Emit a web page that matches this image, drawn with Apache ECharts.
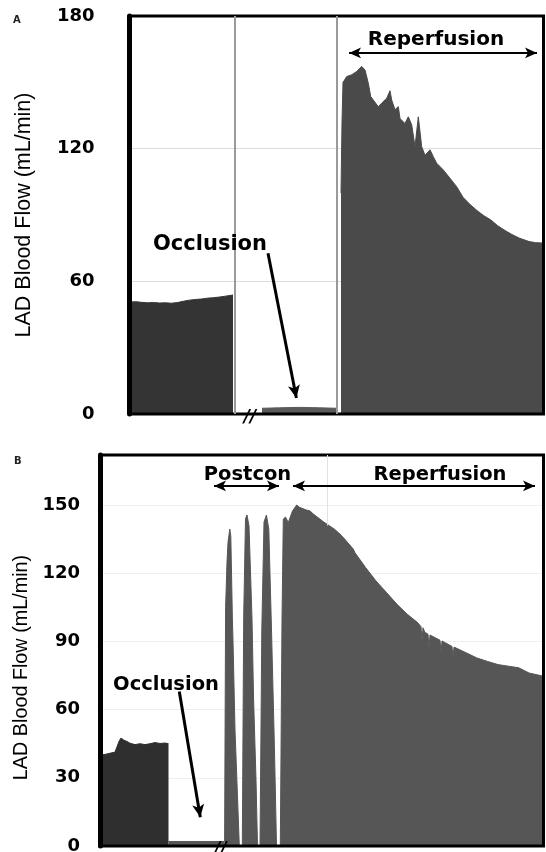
<!DOCTYPE html>
<html><head><meta charset="utf-8">
<script src="https://cdn.jsdelivr.net/npm/echarts@6/dist/echarts.min.js"></script>
<style>html,body{margin:0;padding:0;background:#fff}#c{width:546px;height:852px}</style>
</head><body><div id="c"></div>
<script>
// ---------- Panel A (time units arbitrary, flow mL/min) ----------
const tBaseA = [0, 6, 12, 18, 24, 30, 36, 42, 48, 54, 60, 66, 72, 78, 84, 90, 96, 103.5];
const vBaseA = [50.6, 50.8, 50.5, 50.3, 50.4, 50.2, 50.3, 50.1, 50.4, 51.0, 51.5, 51.8, 52.0, 52.4, 52.6, 52.9, 53.3, 53.8];
const tOccA = [132.5, 150, 170, 190, 207];
const vOccA = [2.6, 2.8, 3.0, 2.8, 2.6];
const tRepA = [211.5, 212.5, 213.5, 215, 217.2, 222.2, 227.2, 232.2, 235.5, 238.8, 241.2, 243.8, 248.8, 252.2, 257.2, 260.5, 262.2, 265.5, 268.8, 270.5, 275.5, 278.8, 282.2, 285.5, 288.8, 292.2, 295.5, 300.5, 303.8, 307.2, 313.8, 320.5, 327.2, 333.5, 340, 347.5, 354, 361.5, 368, 375.5, 382, 389.5, 399.5, 406, 414];
const vRepA = [100, 132, 150, 151, 152.6, 153.4, 154.9, 157.2, 155.6, 149.6, 143.6, 142, 139, 140.6, 142.8, 146.2, 142, 137.6, 139, 133.6, 131.4, 134.4, 130.8, 120.9, 134.4, 120.9, 117, 119.5, 116.4, 113.4, 110.4, 106.6, 102.8, 98, 95, 92, 89.8, 87.7, 85.2, 83, 81.3, 79.6, 78, 77.5, 77.3];
const yTicksA = [0, 60, 120, 180];

// ---------- Panel B ----------
const tBaseB = [0, 5, 10, 15, 17, 19, 21, 24, 27, 30, 35, 40, 45, 50, 55, 60, 65, 68.5];
const vBaseB = [40, 40.3, 40.8, 41.3, 42, 46, 47.5, 46.5, 46, 45.2, 44.6, 45, 44.6, 45, 45.5, 45.1, 45.3, 45];
const tOccB = [68.5, 80, 100, 124.6];
const vOccB = [2, 2, 2, 2];
const tPostB = [124.6, 125.6, 127, 128, 129.8, 130.8, 132.4, 133, 135, 137.5, 139.3,
                142.3, 143.7, 145.5, 147, 149, 152, 153.5, 156, 157.5,
                160, 161.8, 164, 166.4, 168.8, 171.5, 174.4, 176.5];
const vPostB = [2, 105, 125, 133.6, 139.4, 136.4, 100, 90, 51, 21.7, 0,
                0, 101, 144, 145.6, 140.8, 100, 66, 29, 0,
                0, 95, 142.5, 145.6, 139.4, 95, 43.8, 0];
const tRepB = [180.3, 182, 183.3, 185.5, 188.3, 192.5, 196.7, 199.4, 206.4, 210, 213.4, 223.5, 234.3, 240, 244.7, 253.3, 255, 265.6, 276, 286.5, 297, 307.4, 317.8, 321, 322, 323, 324.8, 328, 329, 330, 335.3, 340, 341, 342, 345.7, 352, 353, 354, 356, 366.6, 377, 387.5, 398, 408.4, 418.8, 429, 443.5];
const vRepB = [0, 100, 143.8, 144.7, 142.3, 147.4, 150, 149, 147.8, 147.4, 146, 142.6, 139.4, 137.2, 135, 130.6, 129, 122.5, 116.6, 111.5, 106.3, 101.9, 98.2, 96.5, 90, 96, 94, 93.2, 87, 92.8, 91.6, 90.5, 85, 90.2, 89.3, 87.8, 83, 87.5, 87.1, 84.9, 82.7, 81.2, 79.8, 79.1, 78.4, 76.1, 74.7];
const yTicksB = [0, 30, 60, 90, 120, 150];

const zip = (t, v) => t.map((x, i) => [x, v[i]]);

const BOLD = 'DejaVu Sans';
const textPt = (name, coord, size, offset) => ({
  name, coord, symbol: 'circle', symbolSize: 1, itemStyle: { color: 'rgba(0,0,0,0)' },
  label: { show: true, position: 'inside', formatter: '{b}', color: '#000', fontFamily: BOLD,
           fontWeight: 'bold', fontSize: size, offset: offset || [0, 0] }
});
const breakPt = (coord) => ({
  name: '//', coord, symbol: 'circle', symbolSize: 1, itemStyle: { color: 'rgba(0,0,0,0)' },
  label: { show: true, position: 'inside', formatter: '{b}', color: '#000', fontFamily: BOLD,
           fontWeight: 'bold', fontStyle: 'italic', fontSize: 17, offset: [0, 4] }
});
const dblArrow = (a, b) => [{ coord: a, symbol: 'arrow' }, { coord: b, symbol: 'arrow' }];
const oneArrow = (a, b) => [{ coord: a, symbol: 'none' }, { coord: b, symbol: 'arrow' }];

function areaSeries(name, xi, data, color, extra) {
  return Object.assign({
    name, type: 'line', xAxisIndex: xi, yAxisIndex: xi === 1 ? 2 : 0, data,
    symbol: 'none', showSymbol: false, silent: true, animation: false,
    lineStyle: { color, width: 1 }, areaStyle: { color, opacity: 1 }, z: 2
  }, extra || {});
}

const yMain = (gi, max, interval, margin, gap, nameSize, pad) => ({
  gridIndex: gi, type: 'value', min: 0, max, interval, z: 6,
  axisLine: { show: true, lineStyle: { color: '#000', width: 5 } },
  axisTick: { show: false },
  splitLine: { show: false },
  axisLabel: { color: '#000', fontFamily: BOLD, fontWeight: 'bold', fontSize: 18, margin,
               formatter: v => (v % interval === 0 ? String(v) : '') },
  name: 'LAD Blood Flow (mL/min)', nameLocation: 'middle', nameGap: gap,
  nameTextStyle: { color: '#000', fontFamily: 'Liberation Sans', fontSize: nameSize, padding: pad }
});
const yGrid = (gi, max, interval, col) => ({
  gridIndex: gi, type: 'value', min: 0, max, interval, z: 0,
  axisLine: { show: false }, axisTick: { show: false }, axisLabel: { show: false },
  splitLine: { show: true, lineStyle: { color: col, width: 1 } }
});

const option = {
  backgroundColor: '#fff',
  animation: false,
  grid: [
    { left: 129.5, top: 16, width: 414, height: 398, show: true, borderColor: '#000', borderWidth: 3,
      backgroundColor: 'transparent', z: 5, containLabel: false, outerBoundsMode: 'none' },
    { left: 100, top: 455, width: 443.5, height: 391, show: true, borderColor: '#000', borderWidth: 3,
      backgroundColor: 'transparent', z: 5, containLabel: false, outerBoundsMode: 'none' }
  ],
  xAxis: [
    { gridIndex: 0, type: 'value', min: 0, max: 414, axisLine: { show: false }, axisTick: { show: false },
      axisLabel: { show: false }, splitLine: { show: false } },
    { gridIndex: 1, type: 'value', min: 0, max: 443.5, axisLine: { show: false }, axisTick: { show: false },
      axisLabel: { show: false }, splitLine: { show: false } }
  ],
  yAxis: [
    yMain(0, yTicksA[yTicksA.length - 1], yTicksA[1] - yTicksA[0], 35, 94.5, 21.5, [0, 0, 0, 0]),
    yGrid(0, yTicksA[yTicksA.length - 1], yTicksA[1] - yTicksA[0], '#dcdcdc'),
    yMain(1, 172, yTicksB[1] - yTicksB[0], 20, 65, 19.8, [0, 34, 0, 0]),
    yGrid(1, 172, yTicksB[1] - yTicksB[0], '#efefef')
  ],
  graphic: [
    { type: 'text', left: 13, top: 15, style: { text: 'A', fontFamily: BOLD, fontWeight: 'bold', fontSize: 10, fill: '#222' } },
    { type: 'text', left: 14, top: 456, style: { text: 'B', fontFamily: BOLD, fontWeight: 'bold', fontSize: 10, fill: '#222' } }
  ],
  series: [
    areaSeries('baseA', 0, zip(tBaseA, vBaseA), '#343434', {
      markLine: { silent: true, symbol: 'none', label: { show: false },
        lineStyle: { color: '#9a9a9a', width: 2, type: 'solid' },
        data: [{ xAxis: 105.5 }, { xAxis: 207.5 }] }
    }),
    areaSeries('occA', 0, zip(tOccA, vOccA), '#5a5a5a', {
      markLine: { silent: true, symbolSize: [9, 13], label: { show: false },
        lineStyle: { color: '#000', width: 3, type: 'solid' },
        data: [oneArrow([138.5, 72.7], [166.9, 7.2])] },
      markPoint: { silent: true, data: [textPt('Occlusion', [80.5, 76.5], 21), breakPt([120.5, 0])] }
    }),
    areaSeries('repA', 0, zip(tRepA, vRepA), '#4a4a4a', {
      markLine: { silent: true, symbolSize: [8, 12], label: { show: false },
        lineStyle: { color: '#000', width: 2, type: 'solid' },
        data: [dblArrow([219.5, 163.3], [407.5, 163.3])] },
      markPoint: { silent: true, data: [textPt('Reperfusion', [306.5, 169.2], 20)] }
    }),
    areaSeries('baseB', 1, zip(tBaseB, vBaseB), '#2f2f2f', {
      markLine: { silent: true, symbol: 'none', label: { show: false },
        lineStyle: { color: '#e2e2e2', width: 1, type: 'solid' },
        data: [[{ coord: [227, 141] }, { coord: [227, 172] }]] }
    }),
    areaSeries('occB', 1, zip(tOccB, vOccB), '#565656', {
      markLine: { silent: true, symbolSize: [9, 13], label: { show: false },
        lineStyle: { color: '#000', width: 3, type: 'solid' },
        data: [oneArrow([79.3, 68], [100.3, 12.6])] },
      markPoint: { silent: true, data: [textPt('Occlusion', [66, 70.8], 19.5), breakPt([120.5, 0])] }
    }),
    areaSeries('postB', 1, zip(tPostB, vPostB), '#565656', {
      markLine: { silent: true, symbolSize: [8, 12], label: { show: false },
        lineStyle: { color: '#000', width: 2, type: 'solid' },
        data: [dblArrow([114, 158.4], [179, 158.4])] },
      markPoint: { silent: true, data: [textPt('Postcon', [147.5, 163.2], 19.5)] }
    }),
    areaSeries('repB', 1, zip(tRepB, vRepB), '#565656', {
      markLine: { silent: true, symbolSize: [8, 12], label: { show: false },
        lineStyle: { color: '#000', width: 2, type: 'solid' },
        data: [dblArrow([193, 158.4], [435, 158.4])] },
      markPoint: { silent: true, data: [textPt('Reperfusion', [340, 163.2], 19.5)] }
    })
  ]
};

const chart = echarts.init(document.getElementById('c'), null, { renderer: 'canvas' });
chart.setOption(option);
</script>
</body></html>
